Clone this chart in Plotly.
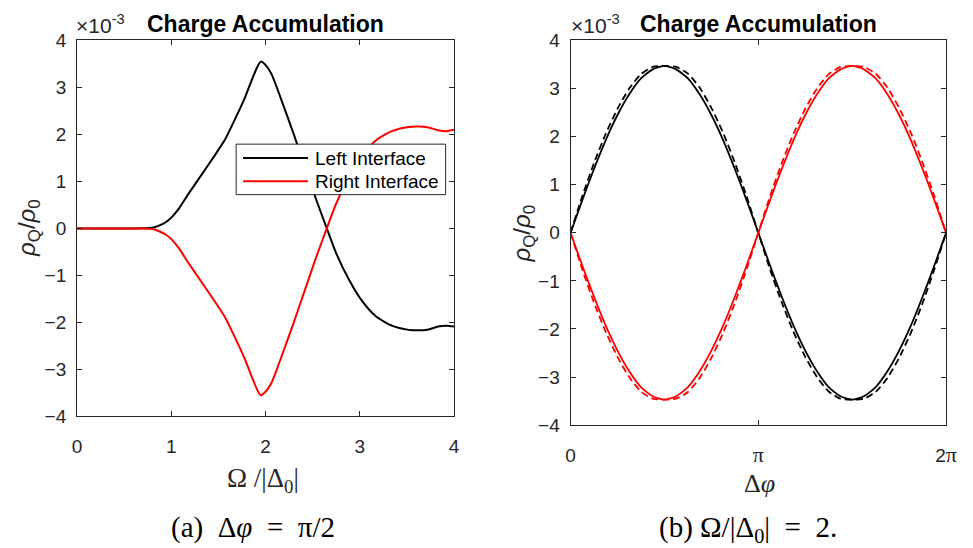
import numpy as np
import plotly.graph_objects as go

W, H = 973, 548

# ---- (a) charge vs Omega/|Delta0| at dphi = pi/2  (values in units of 1e-3) ----
omega = [0.0, 0.2, 0.4, 0.6, 0.7, 0.80, 0.87, 0.94, 1.01, 1.08, 1.18, 1.32, 1.46, 1.57,
         1.67, 1.78, 1.86, 1.92, 1.95, 1.99, 2.06, 2.16, 2.30, 2.44, 2.54, 2.65, 2.75,
         2.89, 3.03, 3.17, 3.34, 3.52, 3.62, 3.73, 3.83, 3.92, 4.00]
left_iface = [0.0, 0.0, 0.0, 0.0, 0.003, 0.014, 0.06, 0.13, 0.25, 0.42, 0.73, 1.14, 1.55, 1.89,
              2.30, 2.78, 3.19, 3.47, 3.55, 3.50, 3.30, 2.78, 2.00, 1.18, 0.60, 0.0, -0.53,
              -1.11, -1.56, -1.87, -2.07, -2.16, -2.17, -2.15, -2.09, -2.07, -2.09]
right_iface = [0.0, 0.0, 0.0, 0.0, -0.003, -0.014, -0.06, -0.13, -0.25, -0.42, -0.73, -1.14, -1.55, -1.89,
               -2.30, -2.78, -3.19, -3.47, -3.55, -3.50, -3.30, -2.78, -2.00, -1.18, -0.60, 0.0, 0.53,
               1.11, 1.56, 1.87, 2.07, 2.16, 2.17, 2.15, 2.09, 2.07, 2.10]

# ---- (b) charge vs dphi at Omega/|Delta0| = 2  (values in units of 1e-3) ----
dphi_over_pi = [i / 16 for i in range(33)]
left_solid = [0.0, 0.68, 1.33, 1.93, 2.45, 2.88, 3.21, 3.40, 3.47, 3.40, 3.21, 2.88, 2.45, 1.93, 1.33, 0.68, 0.0,
              -0.68, -1.33, -1.93, -2.45, -2.88, -3.21, -3.40, -3.47, -3.40, -3.21, -2.88, -2.45, -1.93, -1.33, -0.68, 0.0]
left_dashed = [0.0, 0.76, 1.45, 2.06, 2.58, 3.00, 3.30, 3.45, 3.47, 3.45, 3.31, 3.02, 2.60, 2.08, 1.46, 0.76, 0.0,
               -0.76, -1.45, -2.06, -2.58, -3.00, -3.30, -3.45, -3.47, -3.45, -3.31, -3.02, -2.60, -2.08, -1.46, -0.76, 0.0]
right_solid = [0.0, -0.68, -1.33, -1.93, -2.45, -2.88, -3.21, -3.40, -3.47, -3.40, -3.21, -2.88, -2.45, -1.93, -1.33, -0.68, 0.0,
               0.68, 1.33, 1.93, 2.45, 2.88, 3.21, 3.40, 3.47, 3.40, 3.21, 2.88, 2.45, 1.93, 1.33, 0.68, 0.0]
right_dashed = [0.0, -0.76, -1.45, -2.06, -2.58, -3.00, -3.30, -3.45, -3.47, -3.45, -3.31, -3.02, -2.60, -2.08, -1.46, -0.76, 0.0,
                0.76, 1.45, 2.06, 2.58, 3.00, 3.30, 3.45, 3.47, 3.45, 3.31, 3.02, 2.60, 2.08, 1.46, 0.76, 0.0]

y_ticks = [-4, -3, -2, -1, 0, 1, 2, 3, 4]
a_x_ticks = [0, 1, 2, 3, 4]
b_x_ticks_over_pi = [0, 1, 2]
PI_SPAN = "<span style='font-family:Liberation Serif;font-size:22px'>π</span>"
b_x_ticktext = ["0", PI_SPAN, "2" + PI_SPAN]

legend_labels = ["Left Interface", "Right Interface"]
series_colors = ["#000000", "#ff0000"]

SANS = "Liberation Sans, Arial, sans-serif"
SERIF = "Liberation Serif, Times New Roman, serif"
AXC = "#262626"
NB = "\u00a0"
EN = "\u2002"


def px(x):
    return x / W


def py(y):
    return 1 - y / H


phi = np.pi * np.array(dphi_over_pi)

fig = go.Figure()
spl = dict(shape="spline", smoothing=0.6)

fig.add_trace(go.Scatter(x=omega, y=left_iface, mode="lines", name=legend_labels[0],
                         line=dict(color=series_colors[0], width=2, **spl),
                         xaxis="x", yaxis="y", showlegend=False))
fig.add_trace(go.Scatter(x=omega, y=right_iface, mode="lines", name=legend_labels[1],
                         line=dict(color=series_colors[1], width=2, **spl),
                         xaxis="x", yaxis="y", showlegend=False))

for vals, col, dash in [(left_dashed, series_colors[0], "7px,4px"),
                        (left_solid, series_colors[0], "solid"),
                        (right_dashed, series_colors[1], "7px,4px"),
                        (right_solid, series_colors[1], "solid")]:
    fig.add_trace(go.Scatter(x=phi, y=vals, mode="lines",
                             line=dict(color=col, width=1.8, dash=dash, **spl),
                             xaxis="x2", yaxis="y2", showlegend=False))

axis_common = dict(showline=True, linecolor=AXC, linewidth=1, mirror="ticks",
                   ticks="inside", ticklen=5, tickcolor=AXC, tickwidth=1,
                   showgrid=False, zeroline=False,
                   tickfont=dict(family=SANS, size=19, color=AXC))

fig.update_layout(
    width=W, height=H,
    margin=dict(l=0, r=0, t=0, b=0),
    paper_bgcolor="white", plot_bgcolor="white",
    xaxis=dict(domain=[px(73.3), px(456.5)], range=[0, 4], tickvals=a_x_ticks,
               anchor="y", ticklabelstandoff=13, **axis_common),
    yaxis=dict(domain=[py(422.5), py(31.7)], range=[-4, 4], tickvals=y_ticks,
               anchor="x", ticklabelstandoff=6, **axis_common),
    xaxis2=dict(domain=[px(575), px(956.8)], range=[0, 2 * np.pi],
                tickvals=[np.pi * v for v in b_x_ticks_over_pi], ticktext=b_x_ticktext,
                anchor="y2", ticklabelstandoff=13, **axis_common),
    yaxis2=dict(domain=[py(431.7), py(31.7)], range=[-4, 4], tickvals=y_ticks,
                anchor="x2", ticklabelstandoff=6, **axis_common),
)

# legend box for panel (a)
shapes = [dict(type="rect", xref="paper", yref="paper", x0=px(235), x1=px(448),
               y0=py(192), y1=py(139.5), line=dict(color=AXC, width=1),
               fillcolor="white", layer="above")]
for yy, col in [(154, series_colors[0]), (178, series_colors[1])]:
    shapes.append(dict(type="line", xref="paper", yref="paper", x0=px(242), x1=px(308),
                       y0=py(yy), y1=py(yy), line=dict(color=col, width=2), layer="above"))
fig.update_layout(shapes=shapes)

ann = []
for label, yy in zip(legend_labels, [154, 178]):
    ann.append(dict(text=label, x=px(313), y=py(yy), xanchor="left", yanchor="middle",
                    font=dict(family=SANS, size=19, color="black")))

for cx in (265, 766):
    ann.append(dict(text="<b>Charge Accumulation</b>", x=px(cx), y=py(15),
                    xanchor="center", yanchor="middle",
                    font=dict(family=SANS, size=23, color="black")))
for lx in (70, 573):
    ann.append(dict(text="×10<sup>-3</sup>", x=px(lx), y=py(15), xanchor="left",
                    yanchor="middle", font=dict(family=SANS, size=21, color=AXC)))

for cx, cy in ((24, 227), (527, 232)):
    ann.append(dict(text="<i>ρ</i><sub>Q</sub>/<i>ρ</i><sub>0</sub>", x=px(cx), y=py(cy),
                    textangle=-90, xanchor="center", yanchor="middle",
                    font=dict(family=SANS, size=24, color=AXC)))

ann.append(dict(text="Ω /|Δ<sub>0</sub>|", x=px(262), y=py(489), xanchor="center",
                yanchor="middle", font=dict(family=SERIF, size=27, color=AXC)))
ann.append(dict(text="Δ<i>φ</i>", x=px(767), y=py(492), xanchor="center",
                yanchor="middle", font=dict(family=SERIF, size=26, color=AXC)))

ann.append(dict(text="(a)" + EN + "Δ<i>φ</i>" + EN + "=" + EN + "π/2",
                x=px(252), y=py(538), xanchor="center",
                yanchor="middle", font=dict(family=SERIF, size=29, color="black")))
ann.append(dict(text="(b)" + NB + "Ω/|Δ<sub>0</sub>|" + EN + "=" + EN + "2.",
                x=px(755), y=py(540), xanchor="center",
                yanchor="middle", font=dict(family=SERIF, size=29, color="black")))

for a in ann:
    a.update(xref="paper", yref="paper", showarrow=False)
fig.update_layout(annotations=ann)

fig.write_html("out.html")
